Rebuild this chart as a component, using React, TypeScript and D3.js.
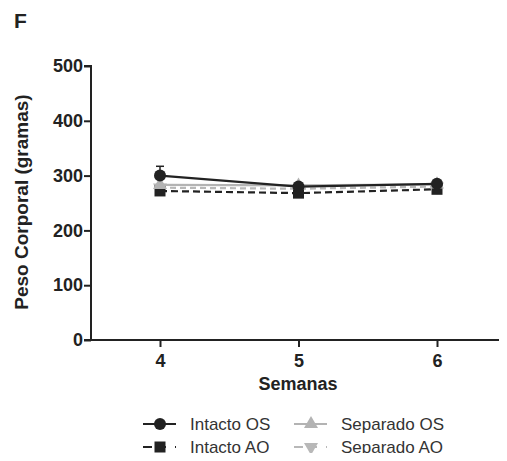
import {useRef, useEffect} from "react";
import * as d3 from "d3";

const weeks = [4, 5, 6];
const intactoOS = [300, 280, 285];
const intactoOSErr = [17, 4, 4];
const intactoAO = [272, 268, 275];
const separadoOS = [283, 282, 284];
const separadoAO = [278, 276, 280];
const yTicks = [0, 100, 200, 300, 400, 500];

type Series = { name: string; values: number[]; err?: number[]; color: string; dash: string | null; shape: string };

const series: Series[] = [
  { name: "Separado AO", values: separadoAO, color: "#b8b8b8", dash: "6,4", shape: "tridown" },
  { name: "Intacto AO", values: intactoAO, color: "#222", dash: "7,4", shape: "square" },
  { name: "Separado OS", values: separadoOS, color: "#b3b3b3", dash: null, shape: "triangle" },
  { name: "Intacto OS", values: intactoOS, err: intactoOSErr, color: "#222", dash: null, shape: "circle" },
];

const FONT = "'Liberation Sans', Arial, sans-serif";

function drawMarker(g: any, shape: string, cx: number, cy: number, color: string) {
  if (shape === "circle") {
    g.append("circle").attr("cx", cx).attr("cy", cy).attr("r", 6).attr("fill", color);
  } else if (shape === "square") {
    g.append("rect").attr("x", cx - 5.5).attr("y", cy - 5.5).attr("width", 11).attr("height", 11).attr("fill", color);
  } else {
    const sym = d3.symbol().type(d3.symbolTriangle).size(85);
    g.append("path").attr("d", sym() as string)
      .attr("transform", `translate(${cx},${cy})${shape === "tridown" ? " rotate(180)" : ""}`)
      .attr("fill", color);
  }
}

export default function App() {
  const refEl = useRef<HTMLDivElement | null>(null);

  useEffect(() => {
    if (!refEl.current) return;
    const container = refEl.current;
    container.innerHTML = "";

    const W = 507, H = 461;
    const svg = d3.select(container).append("svg")
      .attr("width", W).attr("height", H)
      .style("display", "block")
      .style("font-family", FONT);

    const x = d3.scaleLinear().domain([4, 6]).range([160, 437]);
    const y = d3.scaleLinear().domain([0, 500]).range([340, 66]);

    svg.append("text").attr("x", 14).attr("y", 28).text("F")
      .attr("font-size", "21px").attr("font-weight", "bold").attr("fill", "#222");

    // y axis
    const yAxis = d3.axisLeft(y).tickValues(yTicks).tickSize(7).tickPadding(1).tickFormat(d3.format("d") as any);
    const gy = svg.append("g").attr("transform", "translate(91,0)").call(yAxis);
    gy.select(".domain").attr("stroke", "#222").attr("stroke-width", 2).attr("d", "M-7,66H0V340");
    gy.selectAll(".tick line").attr("stroke", "#222").attr("stroke-width", 2);
    gy.selectAll(".tick text").attr("font-size", "18px").attr("font-weight", "bold").attr("fill", "#222")
      .attr("font-family", FONT);

    // x axis
    const xAxis = d3.axisBottom(x).tickValues(weeks).tickSize(7).tickPadding(7).tickFormat(d3.format("d") as any);
    const gx = svg.append("g").attr("transform", "translate(0,340)").call(xAxis);
    gx.select(".domain").attr("stroke", "#222").attr("stroke-width", 2).attr("d", "M84,0H507");
    gx.selectAll(".tick line").attr("stroke", "#222").attr("stroke-width", 2);
    gx.selectAll(".tick text").attr("font-size", "18px").attr("font-weight", "bold").attr("fill", "#222")
      .attr("font-family", FONT);

    svg.append("text").attr("x", 298).attr("y", 390).attr("text-anchor", "middle")
      .text("Semanas").attr("font-size", "18px").attr("font-weight", "bold").attr("fill", "#222");
    svg.append("text").attr("transform", "translate(28,202) rotate(-90)").attr("text-anchor", "middle")
      .text("Peso Corporal (gramas)").attr("font-size", "19px").attr("font-weight", "bold").attr("fill", "#222");

    // series
    const plot = svg.append("g");
    series.forEach(s => {
      const line = d3.line<number>().x((_, i) => x(weeks[i])).y(d => y(d));
      plot.append("path").datum(s.values).attr("fill", "none").attr("stroke", s.color)
        .attr("stroke-width", 2.2).attr("stroke-dasharray", s.dash).attr("d", line as any);
      if (s.err) {
        s.values.forEach((v, i) => {
          const cx = x(weeks[i]);
          plot.append("line").attr("x1", cx).attr("x2", cx).attr("y1", y(v)).attr("y2", y(v + s.err![i]))
            .attr("stroke", s.color).attr("stroke-width", 1.5);
          plot.append("line").attr("x1", cx - 4).attr("x2", cx + 4).attr("y1", y(v + s.err![i])).attr("y2", y(v + s.err![i]))
            .attr("stroke", s.color).attr("stroke-width", 1.5);
        });
      }
      s.values.forEach((v, i) => drawMarker(plot, s.shape, x(weeks[i]), y(v), s.color));
    });

    // legend
    const legendItems = [
      { s: series[3], lx: 143, ly: 424 },
      { s: series[2], lx: 294, ly: 424 },
      { s: series[1], lx: 143, ly: 447 },
      { s: series[0], lx: 294, ly: 447 },
    ];
    const lg = svg.append("g");
    legendItems.forEach(({ s, lx, ly }) => {
      lg.append("line").attr("x1", lx).attr("x2", lx + 33).attr("y1", ly).attr("y2", ly)
        .attr("stroke", s.color).attr("stroke-width", 2.2).attr("stroke-dasharray", s.dash ? "9,4,3,4,3" : null);
      drawMarker(lg, s.shape, lx + 17, ly, s.color);
      lg.append("text").attr("x", lx + 47).attr("y", ly + 6).text(s.name)
        .attr("font-size", "17px").attr("fill", "#333");
    });

    return () => { svg.remove(); };
  }, []);

  return <div ref={refEl} style={{width: 507, height: 461, margin: -8}} />;
}
